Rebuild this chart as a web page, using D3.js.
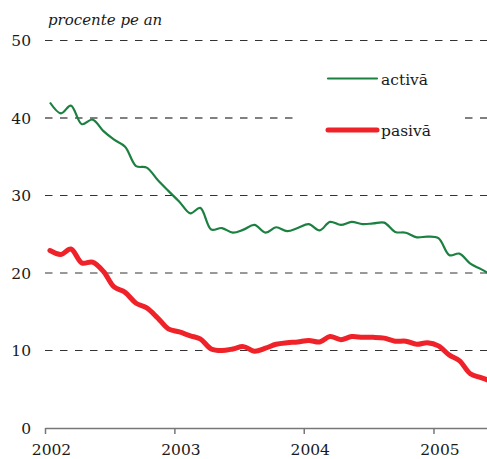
<!DOCTYPE html>
<html>
<head>
<meta charset="utf-8">
<script src="https://cdnjs.cloudflare.com/ajax/libs/d3/7.8.5/d3.min.js"></script>
<style>
  body { margin: 0; background: #fff; }
</style>
</head>
<body>
<div id="container"></div>
<script>
/* DATA */
const months = [
  "2002-01","2002-02","2002-03","2002-04","2002-05","2002-06","2002-07","2002-08","2002-09","2002-10","2002-11","2002-12",
  "2003-01","2003-02","2003-03","2003-04","2003-05","2003-06","2003-07","2003-08","2003-09","2003-10","2003-11","2003-12",
  "2004-01","2004-02","2004-03","2004-04","2004-05","2004-06","2004-07","2004-08","2004-09","2004-10","2004-11","2004-12",
  "2005-01","2005-02","2005-03","2005-04","2005-05","2005-06"
];
const activa = [
  42.0, 40.6, 41.6, 39.2, 39.8, 38.3, 37.2, 36.3, 33.8, 33.6, 32.0, 30.6,
  29.2, 27.7, 28.4, 25.6, 25.8, 25.2, 25.6, 26.2, 25.2, 25.9, 25.4, 25.8,
  26.3, 25.5, 26.6, 26.2, 26.6, 26.3, 26.4, 26.5, 25.3, 25.2, 24.6, 24.7,
  24.5, 22.3, 22.5, 21.2, 20.5, 19.7
];
const pasiva = [
  22.9, 22.4, 23.1, 21.3, 21.4, 20.2, 18.2, 17.5, 16.1, 15.5, 14.2, 12.8,
  12.4, 11.9, 11.5, 10.2, 10.0, 10.2, 10.5, 9.9, 10.3, 10.8, 11.0, 11.1,
  11.3, 11.1, 11.8, 11.4, 11.8, 11.7, 11.7, 11.6, 11.2, 11.2, 10.8, 11.0,
  10.6, 9.4, 8.7, 7.0, 6.5, 6.0
];
const yTicks = [0, 10, 20, 30, 40, 50];
const xTicks = ["2002", "2003", "2004", "2005"];
const seriesNames = ["activă", "pasivă"];

/* CONSTANTS AND GLOBALS */
const width = 487, height = 459;
const margin = {top: 40.5, right: 0, bottom: 31, left: 45};
const FONT = "'DejaVu Serif'";
const LABEL_SIZE = "15.5px";

const parseMonth = d3.timeParse("%Y-%m");
const parseYear = d3.timeParse("%Y");
const midMonth = s => d3.timeDay.offset(parseMonth(s), 14);

/* SCALES */
const x = d3.scaleTime()
    .domain([parseYear("2002"), new Date(2005, 5, 1)])
    .range([margin.left, width - margin.right]);
const y = d3.scaleLinear()
    .domain([0, 50])
    .range([height - margin.bottom, margin.top]);

const svg = d3.select("#container").append("svg")
    .attr("width", width)
    .attr("height", height)
    .style("font-family", FONT);

/* TITLE */
svg.append("text")
    .attr("x", 48)
    .attr("y", 25)
    .attr("fill", "#1a1a1a")
    .style("font-style", "italic")
    .style("font-size", "15px")
    .text("procente pe an");

/* GRID LINES */
svg.append("g")
  .selectAll("line")
  .data(yTicks.filter(d => d > 0))
  .join("line")
    .attr("x1", margin.left)
    .attr("x2", width)
    .attr("y1", d => y(d))
    .attr("y2", d => y(d))
    .attr("stroke", d => d === 40 ? "#808080" : "#333")
    .attr("stroke-width", d => d === 40 ? 2 : 1)
    .attr("stroke-dasharray", "7.5,7.5");

/* Y LABELS */
svg.append("g")
  .selectAll("text")
  .data(yTicks)
  .join("text")
    .attr("x", 31)
    .attr("y", d => y(d))
    .attr("dy", "0.36em")
    .attr("text-anchor", "end")
    .attr("fill", "#1a1a1a")
    .style("font-size", LABEL_SIZE)
    .text(d => d);

/* X AXIS */
const xAxis = svg.append("g")
    .attr("transform", "translate(0," + y(0) + ")")
    .call(d3.axisBottom(x)
      .tickValues(xTicks.map(parseYear))
      .tickSize(6)
      .tickSizeOuter(0)
      .tickFormat(d3.timeFormat("%Y")));
xAxis.attr("font-family", null).attr("font-size", null);
xAxis.select(".domain").attr("stroke", "#777").attr("stroke-width", 1.5);
xAxis.selectAll(".tick line").attr("stroke", "#777").attr("stroke-width", 1.5);
xAxis.selectAll(".tick text")
    .attr("dx", 6)
    .attr("y", 16)
    .style("font-family", FONT)
    .style("font-size", LABEL_SIZE)
    .attr("fill", "#1a1a1a");

/* LINES */
const line = d3.line()
    .x(d => x(d.date))
    .y(d => y(d.value))
    .curve(d3.curveCatmullRom.alpha(0.5));

const toSeries = vals => months.map((m, i) => ({date: midMonth(m), value: vals[i]}));

svg.append("path")
    .datum(toSeries(activa))
    .attr("fill", "none")
    .attr("stroke", "#1b8040")
    .attr("stroke-width", 2.2)
    .attr("stroke-linejoin", "round")
    .attr("d", line);

svg.append("path")
    .datum(toSeries(pasiva))
    .attr("fill", "none")
    .attr("stroke", "#ee2228")
    .attr("stroke-width", 5)
    .attr("stroke-linejoin", "round")
    .attr("stroke-linecap", "round")
    .attr("d", line);

/* LEGEND */
const legend = svg.append("g");
legend.append("rect")
    .attr("x", 293)
    .attr("y", 58)
    .attr("width", 169)
    .attr("height", 92)
    .attr("fill", "#fff");

const legendItems = [
  {name: seriesNames[0], color: "#1b8040", w: 2.2, y: 78.5},
  {name: seriesNames[1], color: "#ee2228", w: 5, y: 130}
];
legend.selectAll("line")
  .data(legendItems)
  .join("line")
    .attr("x1", 328)
    .attr("x2", 377)
    .attr("y1", d => d.y)
    .attr("y2", d => d.y)
    .attr("stroke", d => d.color)
    .attr("stroke-width", d => d.w)
    .attr("stroke-linecap", "round");
legend.selectAll("text")
  .data(legendItems)
  .join("text")
    .attr("x", 381)
    .attr("y", d => d.y + 6)
    .attr("fill", "#1a1a1a")
    .style("font-size", LABEL_SIZE)
    .text(d => d.name);
</script>
</body>
</html>
